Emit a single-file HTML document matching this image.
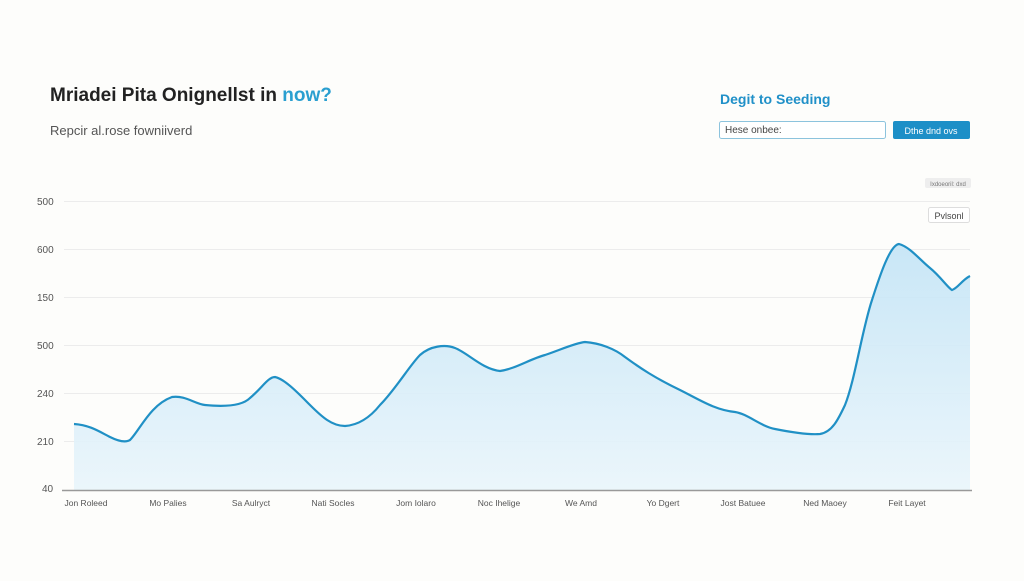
<!DOCTYPE html>
<html><head><meta charset="utf-8"><style>
body{margin:0;width:1024px;height:576px;background:#fdfdfb;font-family:"Liberation Sans",sans-serif;overflow:hidden}
</style></head><body>
<svg width="1024" height="576" viewBox="0 0 1024 576" xmlns="http://www.w3.org/2000/svg" font-family="Liberation Sans, sans-serif">
<defs><linearGradient id="g" x1="0" y1="0" x2="0" y2="1"><stop offset="0" stop-color="#c3e4f6"/><stop offset="1" stop-color="#e9f5fb"/></linearGradient></defs>
<text x="50" y="101" font-size="19" font-weight="bold" fill="#222">Mriadei Pita Onignellst in <tspan fill="#2a9fd0">now?</tspan></text>
<text x="50" y="135" font-size="13" fill="#555">Repcir al.rose fowniiverd</text>
<text x="720" y="104" font-size="14" font-weight="bold" fill="#2090c8">Degit to Seeding</text>
<rect x="719.5" y="121.5" width="166" height="17" rx="2" fill="#fff" stroke="#8cc3dd"/>
<text x="725" y="133" font-size="10" fill="#444">Hese onbee:</text>
<rect x="893" y="121" width="77" height="18" rx="2" fill="#1d8fc7"/>
<text x="931" y="134" font-size="9" fill="#fff" text-anchor="middle">Dthe dnd ovs</text>
<rect x="925" y="178" width="46" height="10" rx="2" fill="#eeeeee"/>
<text x="948" y="186" font-size="6" fill="#777" text-anchor="middle">Ixdoeoril: dxd</text>
<rect x="928.5" y="207.5" width="41" height="15" rx="2" fill="#fff" stroke="#ddd"/>
<text x="949" y="219" font-size="9" fill="#444" text-anchor="middle">Pvlsonl</text>
<g stroke="#ececec" stroke-width="1">
<line x1="64" y1="201.5" x2="970" y2="201.5"/><line x1="64" y1="249.5" x2="970" y2="249.5"/><line x1="64" y1="297.5" x2="970" y2="297.5"/><line x1="64" y1="345.5" x2="970" y2="345.5"/><line x1="64" y1="393.5" x2="970" y2="393.5"/><line x1="64" y1="441.5" x2="970" y2="441.5"/>
</g>
<g font-size="10" fill="#555">
<text x="37" y="205">500</text><text x="37" y="253">600</text><text x="37" y="301">150</text><text x="37" y="349">500</text><text x="37" y="397">240</text><text x="37" y="445">210</text><text x="42" y="492">40</text>
</g>
<path d="M74,424 C90,425 100,432 110,437 C118,441 125,443 130,440 C140,430 150,405 172,397 C185,395 195,404 205,405 C215,406 240,408 250,398 C262,388 268,377 275,377 C285,379 300,395 310,405 C322,417 332,426 345,426 C360,425 372,415 380,405 C395,390 410,365 420,355 C430,346 445,344 455,348 C468,353 482,369 500,371 C515,369 530,359 545,355 C560,350 575,343 585,342 C600,343 615,349 625,357 C640,368 655,378 680,390 C700,400 715,410 735,412 C748,414 760,426 775,429 C790,432 808,435 820,434 C832,432 838,420 845,405 C855,380 862,330 872,300 C880,275 890,245 899,244 C910,247 920,260 930,268 C940,276 948,288 952,290 C958,288 962,280 970,276 L970,490 L74,490 Z" fill="url(#g)" opacity="0.9"/>
<path d="M74,424 C90,425 100,432 110,437 C118,441 125,443 130,440 C140,430 150,405 172,397 C185,395 195,404 205,405 C215,406 240,408 250,398 C262,388 268,377 275,377 C285,379 300,395 310,405 C322,417 332,426 345,426 C360,425 372,415 380,405 C395,390 410,365 420,355 C430,346 445,344 455,348 C468,353 482,369 500,371 C515,369 530,359 545,355 C560,350 575,343 585,342 C600,343 615,349 625,357 C640,368 655,378 680,390 C700,400 715,410 735,412 C748,414 760,426 775,429 C790,432 808,435 820,434 C832,432 838,420 845,405 C855,380 862,330 872,300 C880,275 890,245 899,244 C910,247 920,260 930,268 C940,276 948,288 952,290 C958,288 962,280 970,276" fill="none" stroke="#2090c5" stroke-width="2.2"/>
<line x1="62" y1="490.5" x2="972" y2="490.5" stroke="#999" stroke-width="1.5"/>
<g font-size="8.5" fill="#555" text-anchor="middle">
<text x="86" y="506">Jon Roleed</text><text x="168" y="506">Mo Palies</text><text x="251" y="506">Sa Aulryct</text><text x="333" y="506">Nati Socles</text><text x="416" y="506">Jom Iolaro</text><text x="499" y="506">Noc Ihelige</text><text x="581" y="506">We Amd</text><text x="663" y="506">Yo Dgert</text><text x="743" y="506">Jost Batuee</text><text x="825" y="506">Ned Maoey</text><text x="907" y="506">Feit Layet</text>
</g>
</svg>
</body></html>
